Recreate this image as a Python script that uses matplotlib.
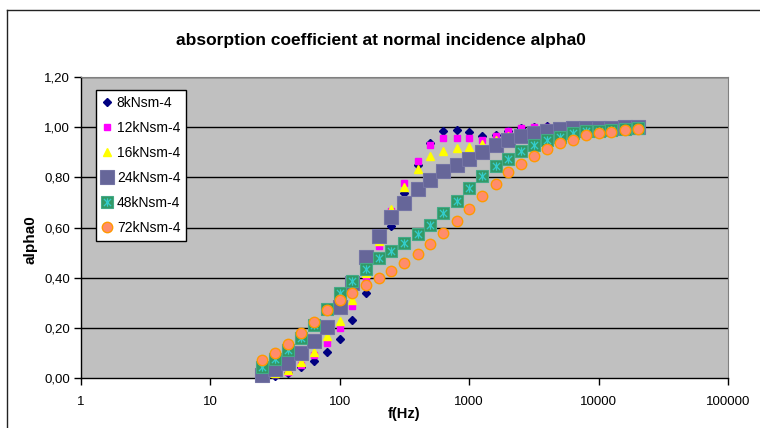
import matplotlib
matplotlib.use("Agg")
import matplotlib.pyplot as plt
from matplotlib.path import Path
from matplotlib.lines import Line2D
from matplotlib.ticker import FixedLocator, FixedFormatter, NullLocator

plt.rcParams['font.family'] = ['Liberation Sans', 'DejaVu Sans']

freqs = [25, 31.5, 40, 50, 63, 80, 100, 125, 160, 200, 250, 315, 400, 500, 630,
         800, 1000, 1250, 1600, 2000, 2500, 3150, 4000, 5000, 6300, 8000, 10000,
         12500, 16000, 20000]

labels = ["8kNsm-4", "12kNsm-4", "16kNsm-4", "24kNsm-4", "48kNsm-4", "72kNsm-4"]

a8 = [0.003, 0.008, 0.019, 0.043, 0.069, 0.102, 0.155, 0.231, 0.337, 0.47, 0.606,
      0.738, 0.849, 0.937, 0.984, 0.99, 0.981, 0.964, 0.97, 0.985, 0.995, 1.0,
      1.005, 1.0, 1.0, 1.0, 1.0, 1.0, 1.0, 1.0]
a12 = [0.01, 0.015, 0.025, 0.05, 0.092, 0.138, 0.2, 0.287, 0.395, 0.526, 0.667,
       0.778, 0.866, 0.928, 0.957, 0.957, 0.955, 0.95, 0.964, 0.985, 0.995, 1.0,
       1.0, 1.0, 1.0, 1.0, 1.0, 1.0, 1.0, 1.0]
a16 = [0.015, 0.02, 0.032, 0.065, 0.105, 0.167, 0.228, 0.31, 0.42, 0.545, 0.675,
       0.762, 0.835, 0.884, 0.906, 0.915, 0.92, 0.933, 0.95, 0.965, 0.975, 0.985,
       0.99, 0.993, 0.995, 0.997, 0.998, 0.998, 0.999, 0.999]
a24 = [0.012, 0.035, 0.06, 0.098, 0.147, 0.205, 0.284, 0.38, 0.482, 0.565, 0.64,
       0.696, 0.752, 0.789, 0.825, 0.848, 0.872, 0.90, 0.928, 0.95, 0.963, 0.975,
       0.985, 0.992, 0.995, 0.997, 0.998, 0.998, 0.999, 0.999]
a48 = [0.045, 0.076, 0.11, 0.158, 0.21, 0.275, 0.337, 0.386, 0.435, 0.478, 0.507,
       0.539, 0.574, 0.61, 0.656, 0.706, 0.756, 0.805, 0.845, 0.875, 0.906, 0.93,
       0.95, 0.962, 0.975, 0.983, 0.985, 0.988, 0.993, 0.995]
a72 = [0.073, 0.10, 0.137, 0.18, 0.225, 0.27, 0.31, 0.338, 0.37, 0.397, 0.425,
       0.457, 0.494, 0.535, 0.579, 0.627, 0.673, 0.725, 0.772, 0.82, 0.855, 0.887,
       0.913, 0.935, 0.95, 0.967, 0.975, 0.981, 0.989, 0.993]

xticks = [1, 10, 100, 1000, 10000, 100000]
xticklabels = ["1", "10", "100", "1000", "10000", "100000"]
yticks = [0.0, 0.2, 0.4, 0.6, 0.8, 1.0, 1.2]
yticklabels = ["0,00", "0,20", "0,40", "0,60", "0,80", "1,00", "1,20"]

W, H = 760, 428
fig = plt.figure(figsize=(W / 100, H / 100), dpi=100)
fig.patch.set_facecolor('white')

# chart-area border
fig.add_artist(Line2D([7 / W, 7 / W], [0, 1 - 10 / H], color='#222222', lw=1.0,
                      transform=fig.transFigure))
fig.add_artist(Line2D([7 / W, 1], [1 - 10 / H, 1 - 10 / H], color='#222222', lw=1.0,
                      transform=fig.transFigure))

px_l, px_r, px_t, px_b = 81, 728, 77, 378
ax = fig.add_axes([px_l / W, 1 - px_b / H, (px_r - px_l) / W, (px_b - px_t) / H])
ax.set_facecolor('#C0C0C0')
ax.set_xscale('log')
ax.set_xlim(1, 100000)
ax.set_ylim(0, 1.2)

for yv in yticks[1:]:
    ax.axhline(yv, color='black', lw=1.0, zorder=1)

ax.xaxis.set_major_locator(FixedLocator(xticks))
ax.xaxis.set_major_formatter(FixedFormatter(xticklabels))
ax.xaxis.set_minor_locator(NullLocator())
ax.yaxis.set_major_locator(FixedLocator(yticks))
ax.yaxis.set_major_formatter(FixedFormatter(yticklabels))
ax.tick_params(axis='x', direction='out', length=5, width=1, pad=8, labelsize=9.5,
               color='black')
ax.tick_params(axis='y', direction='out', length=5, width=1, pad=3, labelsize=9.5,
               color='black')
for s in ['left', 'bottom']:
    ax.spines[s].set_color('black')
    ax.spines[s].set_linewidth(1.0)
for s in ['top', 'right']:
    ax.spines[s].set_color('#808080')
    ax.spines[s].set_linewidth(0.8)

star = Path([(-1, -1), (1, 1), (-1, 1), (1, -1), (0, -1.15), (0, 1.15)],
            [Path.MOVETO, Path.LINETO, Path.MOVETO, Path.LINETO, Path.MOVETO, Path.LINETO])

kw = dict(ls='none', zorder=3, clip_on=False)
h8, = ax.plot(freqs, a8, marker='D', ms=4.2, mfc='#000080', mec='#000080', **kw)
h12, = ax.plot(freqs, a12, marker='s', ms=4.5, mfc='#FF00FF', mec='#FF00FF', **kw)
h16, = ax.plot(freqs, a16, marker='^', ms=5.5, mfc='#FFFF00', mec='#FFFF00', **kw)
h24, = ax.plot(freqs, a24, marker='s', ms=9.5, mfc='#666699', mec='#7474A4',
               mew=0.8, **kw)
h48a, = ax.plot(freqs, a48, marker='s', ms=9.0, mfc='#339966', mec='#44AA88',
                mew=0.8, **kw)
h48b, = ax.plot(freqs, a48, marker=star, ms=6.0, mfc='none', mec='#33CCCC',
                mew=0.9, **kw)
h72, = ax.plot(freqs, a72, marker='o', ms=7.5, mfc='#FF8C6C', mec='#FF9900',
               mew=1.0, **kw)

leg = ax.legend([h8, h12, h16, h24, (h48a, h48b), h72], labels,
                loc='upper left', bbox_to_anchor=(96 / W, 1 - 90 / H),
                bbox_transform=fig.transFigure, borderaxespad=0,
                frameon=True, fancybox=False, shadow=False, fontsize=10,
                handlelength=0.8, handletextpad=0.3, labelspacing=0.8,
                borderpad=0.4, framealpha=1)
leg.get_frame().set_edgecolor('black')
leg.get_frame().set_linewidth(1.0)
leg.get_frame().set_facecolor('white')

fig.text(381 / W, 1 - 41 / H, "absorption coefficient at normal incidence alpha0",
         ha='center', va='center', fontsize=12.5, fontweight='bold')
fig.text(404 / W, 1 - 414 / H, "f(Hz)", ha='center', va='center', fontsize=10.5,
         fontweight='bold')
fig.text(30 / W, 1 - 240 / H, "alpha0", ha='center', va='center', fontsize=11,
         fontweight='bold', rotation=90)

fig.savefig("out.png", dpi=100)
